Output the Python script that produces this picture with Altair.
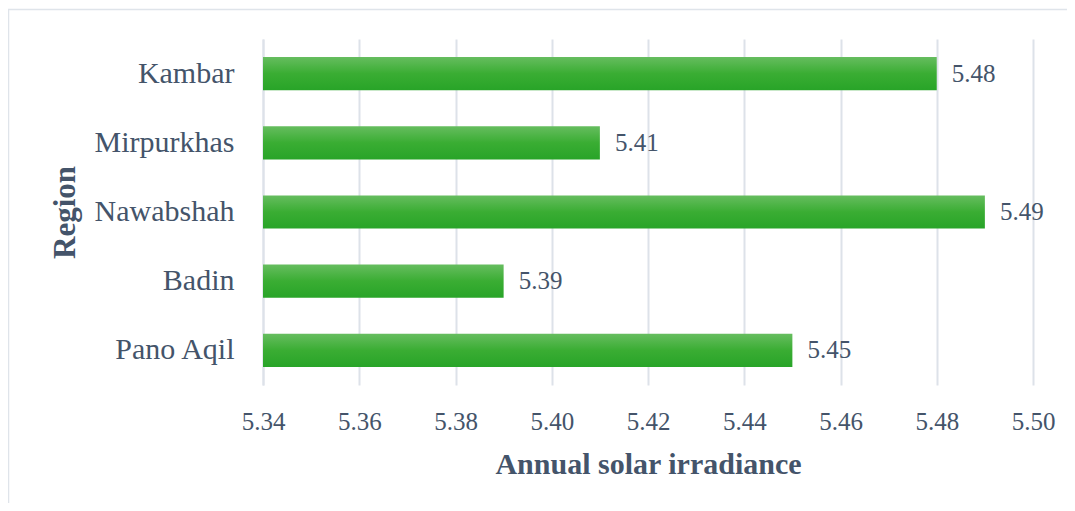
import altair as alt
import pandas as pd

regions = ["Kambar", "Mirpurkhas", "Nawabshah", "Badin", "Pano Aqil"]
irradiance = [5.48, 5.41, 5.49, 5.39, 5.45]
x_ticks = [5.34, 5.36, 5.38, 5.40, 5.42, 5.44, 5.46, 5.48, 5.50]

df = pd.DataFrame({"Region": regions, "Value": irradiance})
df["Label"] = [f"{v:.2f}" for v in irradiance]

TXT = "#44546A"
GRID = "#dde2e9"
FONT = "Liberation Serif"

grad = alt.LinearGradient(
    gradient="linear",
    stops=[
        alt.GradientStop(color="#66bd5f", offset=0),
        alt.GradientStop(color="#3aad33", offset=0.5),
        alt.GradientStop(color="#28a428", offset=1),
    ],
    x1=0, x2=0, y1=0, y2=1,
)

y_enc = alt.Y(
    "Region:N",
    sort=regions,
    scale=alt.Scale(paddingInner=0.52, paddingOuter=0.26),
    axis=alt.Axis(
        title="Region",
        titleFont=FONT,
        titleFontSize=31,
        titleFontWeight="bold",
        titleColor=TXT,
        titlePadding=13,
        labelFont=FONT,
        labelFontSize=30,
        labelColor=TXT,
        labelPadding=29,
        ticks=False,
        domain=True,
        domainColor=GRID,
        domainWidth=2,
        grid=False,
    ),
)

x_enc = alt.X(
    "Value:Q",
    scale=alt.Scale(domain=[5.34, 5.50], zero=False, nice=False),
    axis=alt.Axis(
        title="Annual solar irradiance",
        values=x_ticks,
        format=".2f",
        titleFont=FONT,
        titleFontSize=30,
        titleFontWeight="bold",
        titleColor=TXT,
        titlePadding=15,
        labelFont=FONT,
        labelFontSize=25,
        labelColor=TXT,
        labelPadding=24,
        labelFlush=False,
        ticks=False,
        domain=False,
        grid=True,
        gridColor=GRID,
        gridWidth=2,
    ),
)

bars = alt.Chart(df).mark_bar(color=grad).encode(
    y=y_enc,
    x=x_enc,
    x2=alt.datum(5.34),
)

labels = alt.Chart(df).mark_text(
    align="left", baseline="middle", dx=15, font=FONT, fontSize=25, color=TXT
).encode(
    y=alt.Y("Region:N", sort=regions),
    x=alt.X("Value:Q"),
    text="Label:N",
)

frame = alt.Chart(pd.DataFrame({"f": [0]})).mark_rect(
    fillOpacity=0, stroke="#dfe4ea", strokeWidth=1.5
).encode(
    x=alt.value(-254.5),
    x2=alt.value(840),
    y=alt.value(-29.5),
    y2=alt.value(500),
)

chart = (
    alt.layer(frame, bars, labels)
    .properties(
        width=770,
        height=346,
        padding={"left": 255, "top": 31, "right": 34, "bottom": 118},
        autosize=alt.AutoSizeParams(type="none"),
        background="white",
    )
    .configure_view(stroke=None)
)

chart.save("out.html", embed_options={"renderer": "svg", "actions": False})
